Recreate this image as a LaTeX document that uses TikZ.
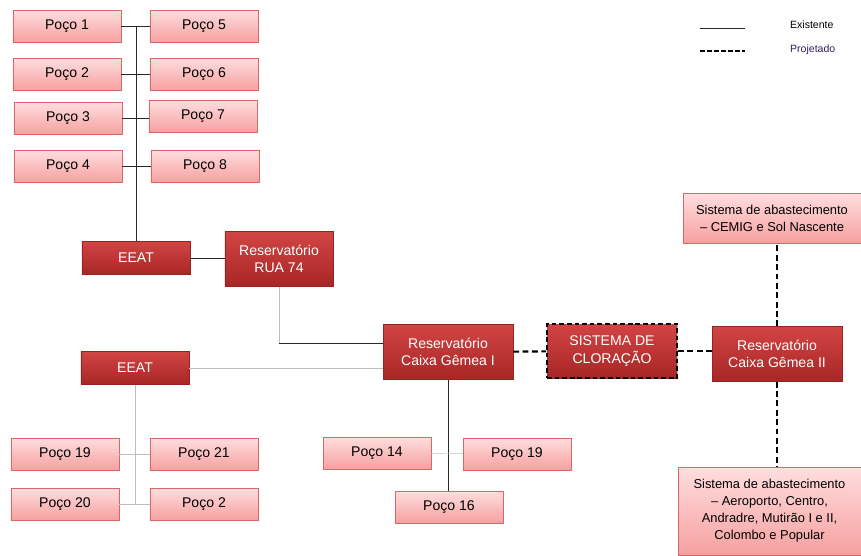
\documentclass[tikz,border=0pt]{standalone}
\usepackage{fontspec}
\setmainfont{Liberation Sans}
\usepackage{tikz}
\usetikzlibrary{positioning,shapes,shadows,calc}
\definecolor{pocotop}{RGB}{255,222,222}
\definecolor{pocobot}{RGB}{246,160,160}
\definecolor{pocoline}{RGB}{214,104,104}
\definecolor{restop}{RGB}{210,68,68}
\definecolor{resbot}{RGB}{168,38,38}
\definecolor{resline}{RGB}{150,34,34}
\definecolor{fio}{RGB}{40,40,40}
\definecolor{fioclaro}{RGB}{190,190,190}
\tikzset{
    %Define style for boxes
    poco/.style={
        rectangle,
        draw=pocoline,
        top color=pocotop,
        bottom color=pocobot,
        drop shadow={shadow xshift=0.6pt,shadow yshift=-0.8pt,opacity=0.35},
        minimum width=3.24cm,
        minimum height=0.96cm,
        align=center,
        font=\fontsize{12}{14}\selectfont,
    },
    reserv/.style={
        rectangle,
        draw=resline,
        top color=restop,
        bottom color=resbot,
        text=white,
        drop shadow={shadow xshift=0.6pt,shadow yshift=-0.8pt,opacity=0.35},
        minimum width=3.24cm,
        minimum height=0.99cm,
        align=center,
        font=\fontsize{12}{15}\selectfont,
    },
    abast/.style={
        poco,
        font=\fontsize{11}{14.5}\selectfont,
    },
    exist/.style={
        draw=fio,
        thin,
    },
    exclaro/.style={
        draw=fioclaro,
        thin,
    },
    proj/.style={
        draw=black,
        line width=1.8pt,
        dash pattern=on 5pt off 3pt,
    },
    legenda/.style={
        draw = none,
        anchor = west,
        font = \fontsize{9}{10}\selectfont,
    },
}
\begin{document}
\begin{tikzpicture}[x=0.03cm,y=-0.03cm]
    \useasboundingbox (0,0) rectangle (861,555);

    % legend
    \coordinate (l1a) at (700,28);
    \coordinate (l1b) at (745,28);
    \coordinate (l2a) at (700,51);
    \coordinate (l2b) at (745,51);
    \draw[exist,semithick] (l1a) -- (l1b);
    \draw[proj,line width=1.2pt,dash pattern=on 4pt off 2pt] (l2a) -- (l2b);
    \node[legenda] (lexist) at (786,25) {Existente};
    \node[legenda,text={rgb,255:red,50;green,30;blue,90}] (lproj) at (786,50) {Projetado};

    % upper wells
    \node[poco] (p1) at (67,26) {Poço 1};
    \node[poco] (p5) at (204,26) {Poço 5};
    \node[poco] (p2) at (67,74) {Poço 2};
    \node[poco] (p6) at (204,74) {Poço 6};
    \node[poco] (p3) at (68,118) {Poço 3};
    \node[poco] (p7) at (203,116) {Poço 7};
    \node[poco] (p4) at (68,166) {Poço 4};
    \node[poco] (p8) at (205,166) {Poço 8};

    \node[reserv] (ee1) at (136,258) {EEAT};
    \node[reserv,minimum height=1.65cm] (r74) at (279,259) {Reservatório\\RUA 74};
    \node[reserv] (ee2) at (135,368) {EEAT};

    % reservoirs
    \node[reserv,minimum width=3.9cm,minimum height=1.65cm] (cg1) at (448,352) {Reservatório\\Caixa Gêmea I};
    \node[reserv,minimum width=3.9cm,minimum height=1.62cm,draw=black,line width=1.6pt,dash pattern=on 4pt off 2.5pt] (clor) at (612,351) {SISTEMA DE\\CLORAÇÃO};
    \node[reserv,minimum width=3.9cm,minimum height=1.65cm] (cg2) at (777,354) {Reservatório\\Caixa Gêmea II};

    \node[abast,minimum width=5.34cm,minimum height=1.5cm] (cemig) at (772,218) {Sistema de abastecimento\\ -- CEMIG e Sol Nascente};
    \node[abast,minimum width=5.49cm,minimum height=2.64cm] (aero) at (769.5,511) {Sistema de abastecimento\\ -- Aeroporto, Centro,\\Andradre, Mutirão I e II,\\Colombo e Popular};

    % lower wells
    \node[poco] (p19) at (65,454) {Poço 19};
    \node[poco] (p21) at (204,454) {Poço 21};
    \node[poco] (p20) at (65,504) {Poço 20};
    \node[poco] (p2b) at (204,504) {Poço 2};
    \node[poco] (p14) at (377,453) {Poço 14};
    \node[poco] (p19b) at (517,454) {Poço 19};
    \node[poco] (p16) at (449,507) {Poço 16};

    % existing lines
    \draw[exist] (p1) -- (p5);
    \draw[exist] (p2) -- (p6);
    \draw[exist] (p3.east) -- (p3.east -| p7.west);
    \draw[exist] (p4) -- (p8);
    \draw[exist] (p1.east -| ee1.north) -- (ee1.north);
    \draw[exist] (ee1) -- (ee1 -| r74.west);
    \draw[exclaro] (r74.south) -- ++(0,56) coordinate (r74c);
    \draw[exist] (r74c) -- (r74c -| cg1.west);
    \draw[exclaro] (ee2.east) -- (ee2.east -| cg1.west);
    \draw[exclaro] (ee2.south) -- (ee2.south |- p20.east);
    \draw[exclaro] (p19) -- (p21);
    \draw[exclaro] (p20) -- (p2b);
    \draw[exist] (cg1.south) -- (cg1.south |- p16.north);
    \draw[exclaro] (p14) -- (p19b);

    % projected lines
    \draw[proj] (cg1) -- (clor);
    \draw[proj] (clor) -- (clor -| cg2.west);
    \draw[proj] (cg2.north) -- (cg2.north |- cemig.south);
    \draw[proj] (cg2.south) -- (cg2.south |- aero.north);
\end{tikzpicture}
\end{document}
